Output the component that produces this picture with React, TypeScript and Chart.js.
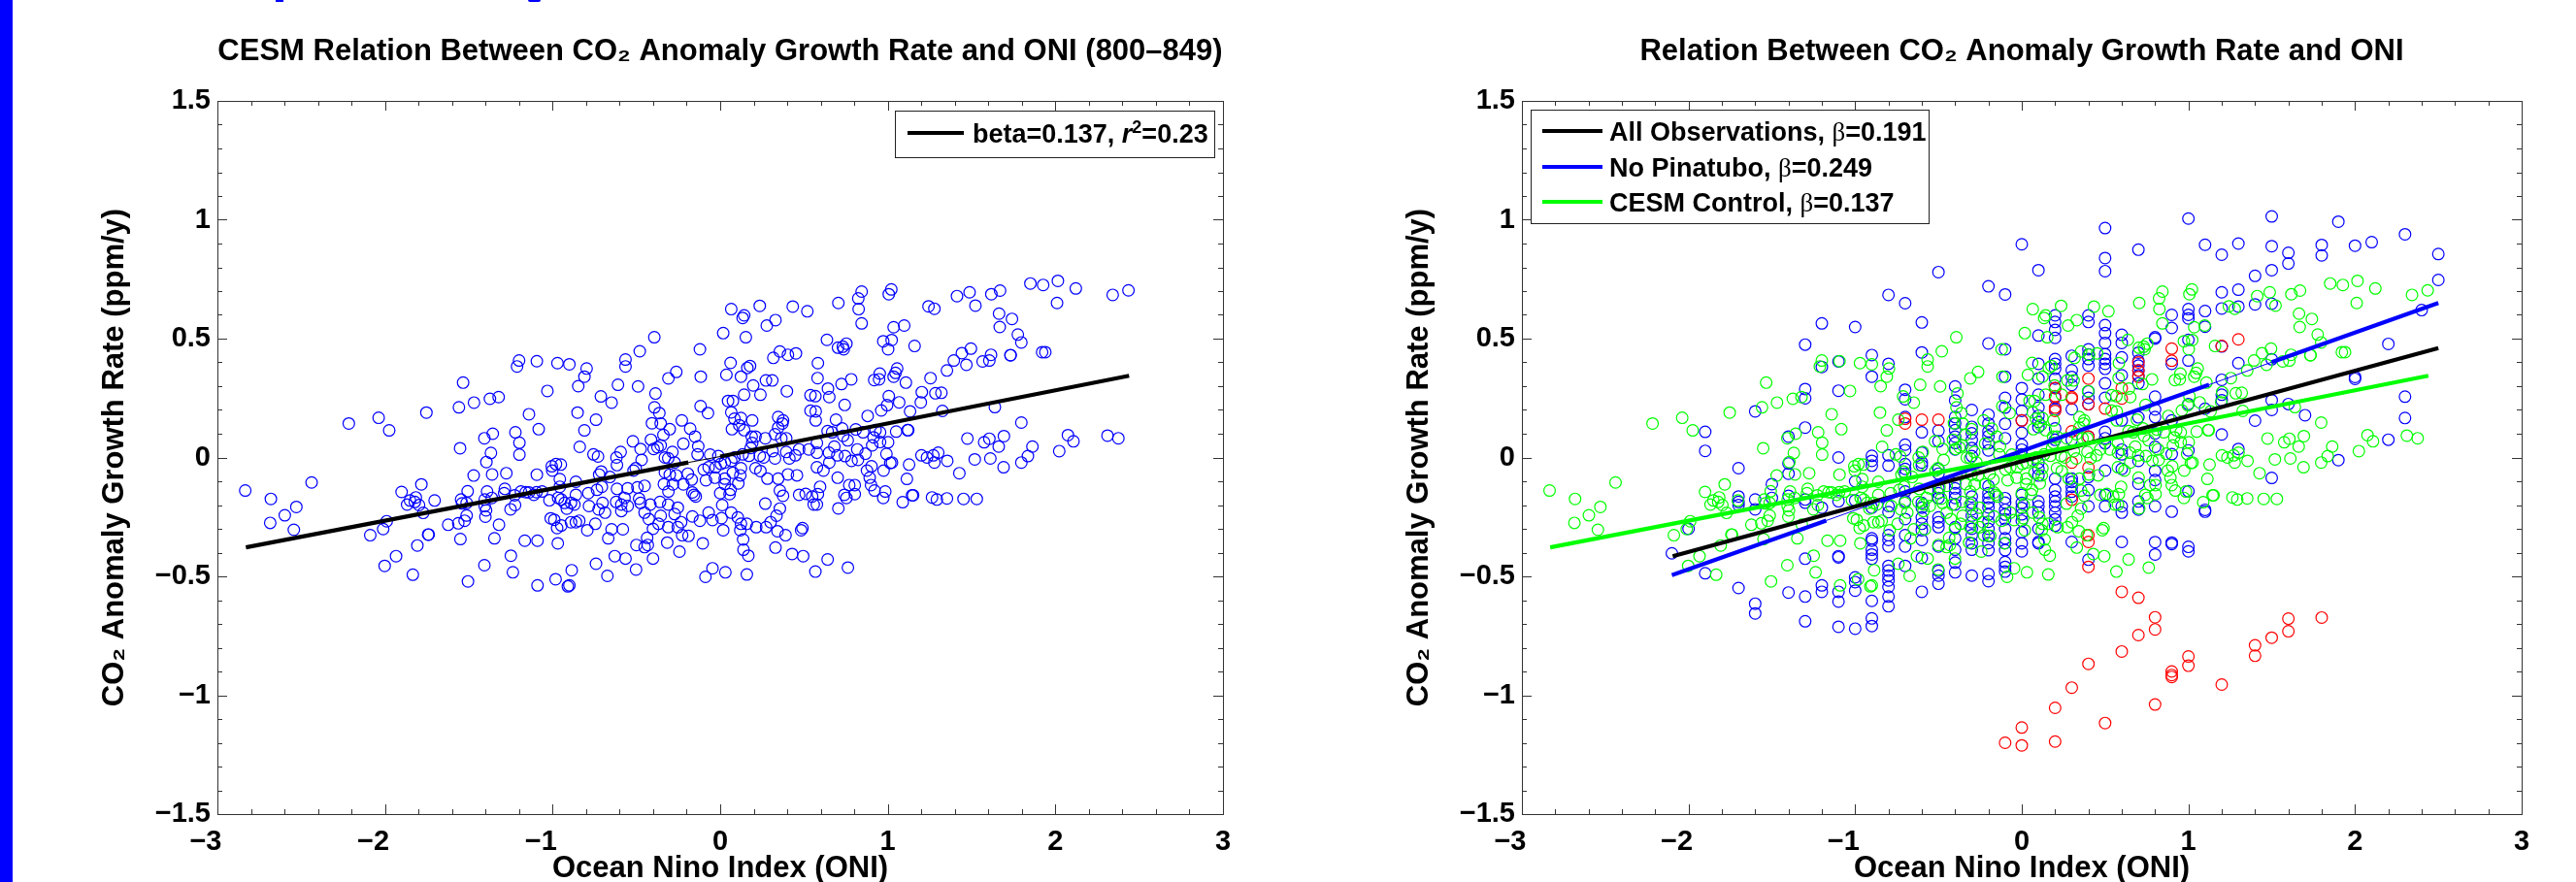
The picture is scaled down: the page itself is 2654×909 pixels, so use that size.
import React, { useEffect, useRef } from "react";
import { Chart, registerables } from "chart.js";

Chart.register(...registerables);

const FONT = "'Liberation Sans', Arial, sans-serif";
const leftTitle = "CESM Relation Between CO\u2082 Anomaly Growth Rate and ONI (800\u2013849)";
const rightTitle = "Relation Between CO\u2082 Anomaly Growth Rate and ONI";
const xAxisTitle = "Ocean Nino Index (ONI)";
const yAxisTitle = "CO\u2082 Anomaly Growth Rate (ppm/y)";

// CESM control run: [ONI, CO2 anomaly growth rate]
const cesmPoints: number[][] = [
  [-2.834,-0.139],[-2.681,-0.174],[-2.438,-0.105],[-2.529,-0.208],[-2.598,-0.243],[-2.685,-0.275],[-2.544,-0.304],[-2.216,0.143],[-2.038,0.167],[-1.975,0.114],
  [-1.753,0.189],[-1.534,0.315],[-1.559,0.211],[-1.469,0.231],[-1.374,0.247],[-1.322,0.254],[-1.2,0.408],[-1.212,0.383],[-1.094,0.405],[-0.971,0.397],
  [-0.9,0.392],[-1.031,0.28],[-1.141,0.182],[-1.083,0.119],[-1.222,0.106],[-1.357,0.1],[-1.407,0.081],[-1.198,0.062],[-1.552,0.039],[-1.198,0.012],
  [-1.368,0.019],[-1.395,-0.019],[-1.471,-0.076],[-1.361,-0.071],[-1.276,-0.066],[-1.094,-0.072],[-0.98,-0.028],[-1.005,-0.037],[-0.951,-0.03],[-1.002,-0.055],
  [-0.957,-0.091],[-1.783,-0.113],[-1.901,-0.145],[-1.816,-0.168],[-1.851,-0.181],[-1.822,-0.187],[-1.868,-0.198],[-1.797,-0.2],[-1.704,-0.181],[-1.772,-0.233],
  [-1.99,-0.268],[-2.011,-0.301],[-2.088,-0.327],[-1.743,-0.324],[-1.739,-0.324],[-1.807,-0.37],[-1.934,-0.415],[-2.002,-0.456],[-1.834,-0.493],[-1.505,-0.521],
  [-1.407,-0.453],[-1.249,-0.413],[-1.237,-0.483],[-1.09,-0.538],[-0.982,-0.512],[-0.9,-0.538],[-0.909,-0.542],[-0.886,-0.474],[-1.347,-0.34],[-1.55,-0.343],
  [-1.166,-0.35],[-1.09,-0.35],[-0.969,-0.361],[-1.32,-0.283],[-1.623,-0.283],[-1.563,-0.277],[-1.525,-0.266],[-1.513,-0.244],[-1.401,-0.249],[-1.397,-0.222],
  [-1.405,-0.204],[-1.405,-0.177],[-1.391,-0.143],[-1.363,-0.17],[-1.507,-0.142],[-1.546,-0.177],[-1.54,-0.193],[-1.513,-0.191],[-1.285,-0.132],[-1.289,-0.15],
  [-1.227,-0.159],[-1.224,-0.2],[-1.251,-0.218],[-1.189,-0.143],[-1.16,-0.146],[-1.141,-0.147],[-1.112,-0.157],[-1.096,-0.146],[-1.063,-0.143],[-1.019,-0.18],
  [-0.967,-0.17],[-0.948,-0.177],[-0.928,-0.191],[-0.915,-0.215],[-0.89,-0.191],[-0.957,-0.123],[-1.011,-0.256],[-0.99,-0.262],[-0.948,-0.286],[-0.973,-0.297],
  [-0.89,-0.272],
  [-0.393,0.506],[-0.48,0.447],[-0.565,0.412],[-0.565,0.383],[-0.797,0.374],[-0.81,0.34],[-0.847,0.3],[-0.61,0.306],[-0.49,0.299],[-0.712,0.257],
  [-0.648,0.231],[-0.386,0.269],[-0.309,0.333],[-0.262,0.36],[-0.121,0.455],[-0.116,0.34],[-0.117,0.216],[-0.073,0.187],[-0.392,0.211],[-0.363,0.187],
  [-0.851,0.189],[-0.741,0.159],[-0.81,0.114],[-0.407,0.144],[-0.355,0.143],[-0.229,0.156],[-0.301,0.119],[-0.179,0.121],[-0.15,0.088],[-0.339,0.095],
  [-0.413,0.075],[-0.521,0.068],[-0.22,0.058],[-0.355,0.051],[-0.374,0.043],[-0.397,0.036],[-0.475,0.036],[-0.838,0.045],[-0.131,0.047],[-0.135,0.013],
  [-0.594,0.023],[-0.619,0],[-0.616,-0.032],[-0.756,0.013],[-0.729,0.004],[-0.469,-0.01],[-0.285,0.023],[-0.33,0],[-0.31,-0.003],[-0.06,0.012],
  [-0.011,0.006],[-0.272,-0.021],[-0.504,-0.045],[-0.517,-0.055],[-0.658,-0.082],[-0.71,-0.059],[-0.722,-0.072],[-0.33,-0.062],[-0.301,-0.072],[-0.262,-0.075],
  [-0.193,-0.068],[-0.17,-0.093],[-0.336,-0.112],[-0.282,-0.113],[-0.22,-0.113],[-0.098,-0.051],[-0.069,-0.041],[-0.027,-0.041],[0.004,-0.027],[0.027,-0.021],
  [0.066,-0.014],[0.124,-0.045],[0.076,-0.064],[0.12,-0.075],[0.108,-0.109],[-0.085,-0.096],[-0.031,-0.085],[0.027,-0.089],[0.027,-0.112],[0.062,-0.136],
  [0,-0.15],[0.056,-0.154],[-0.156,-0.157],[-0.146,-0.164],[-0.166,-0.147],[-0.309,-0.143],[-0.451,-0.119],[-0.494,-0.126],[-0.552,-0.13],[-0.616,-0.132],
  [-0.706,-0.123],[-0.735,-0.136],[-0.787,-0.15],[-0.861,-0.102],[-0.861,-0.157],[-0.87,-0.198],[-0.702,-0.191],[-0.783,-0.204],[-0.726,-0.218],[-0.687,-0.232],
  [-0.745,-0.279],[-0.841,-0.266],[-0.861,-0.272],[-0.793,-0.306],[-0.648,-0.302],[-0.581,-0.302],[-0.668,-0.34],[-0.741,-0.447],[-0.673,-0.498],[-0.629,-0.415],
  [-0.565,-0.425],[-0.502,-0.471],[-0.401,-0.425],[-0.243,-0.396],[-0.5,-0.368],[-0.451,-0.377],[-0.432,-0.368],[-0.436,-0.338],[-0.316,-0.358],[-0.227,-0.327],
  [-0.189,-0.33],[-0.104,-0.361],[-0.621,-0.187],[-0.59,-0.198],[-0.552,-0.204],[-0.59,-0.225],[-0.571,-0.17],[-0.484,-0.173],[-0.475,-0.191],[-0.417,-0.198],
  [-0.359,-0.187],[-0.31,-0.198],[-0.253,-0.211],[-0.272,-0.238],[-0.355,-0.245],[-0.451,-0.232],[-0.426,-0.259],[-0.368,-0.279],[-0.401,-0.3],[-0.31,-0.293],
  [-0.253,-0.293],[-0.233,-0.272],[-0.166,-0.248],[-0.121,-0.266],[-0.069,-0.232],[-0.046,-0.263],[0.008,-0.255],[0.018,-0.306],[0.012,-0.2],[0.066,-0.232],
  [0.105,-0.252],[0.124,-0.279],[0.159,-0.279],[0.215,-0.293],[0.274,-0.293],[0.301,-0.272],[0.336,-0.245],[0.356,-0.215],[0.269,-0.194],[0.375,-0.161],
  [0.356,-0.139],[0.346,-0.089],[0.404,-0.071],[0.458,-0.075],[0.282,-0.089],[0.24,-0.057],[0.211,-0.045],[0.259,0],[0.236,0.007],[0.327,-0.004],
  [0.413,-0.004],[0.471,0.034],[0.529,0.034],[0.448,0.009],[0.394,0.023],[0.313,0.027],[0.269,0.081],[0.327,0.098],[0.394,0.081],[0.365,0.081],
  [0.346,0.17],[0.375,0.156],[0.371,0.143],[0.346,0.126],[0.191,0.156],[0.143,0.115],[0.124,0.166],[0.114,0.136],[0.07,0.119],[0.085,0.163],
  [0.066,0.19],[0.047,0.238],[0.076,0.238],[0.143,0.264],[0.24,0.264],[0.197,0.303],[0.273,0.324],[0.311,0.324],[0.398,0.279],[0.037,0.348],
  [0.062,0.398],[0.124,0.34],[0.162,0.377],[0.178,0.385],[0.317,0.419],[0.356,0.446],[0.404,0.432],[0.452,0.438],[0.018,0.523],[0.153,0.506],
  [0.066,0.624],[0.134,0.587],[0.143,0.598],[0.236,0.638],[0.278,0.555],[0.33,0.578],[0.433,0.635],[0.52,0.615],[0.188,0.088],[0.211,0.088],
  [0.191,0.061],[0.182,0.04],[0.085,0],[0.134,0.013],[0.172,0.007],[0.539,0.262],[0.539,0.197],[0.471,-0.157],[0.51,-0.153],[0.549,-0.164],
  [0.558,-0.198],[0.491,-0.297],[0.483,-0.306],[0.429,-0.406],[0.495,-0.415],[0.33,-0.379],[0.39,-0.327],[0.342,-0.31],[0.159,-0.492],[0.031,-0.483],
  [-0.046,-0.466],[-0.088,-0.502],[0.168,-0.413],[0.139,-0.388],[0.137,-0.345],[0.12,-0.306],
  [0.705,0.65],[0.844,0.698],[0.824,0.669],[0.826,0.624],[0.844,0.564],[1.021,0.707],[1.006,0.687],[1.243,0.636],[1.278,0.626],[1.413,0.679],
  [1.488,0.695],[1.523,0.639],[1.618,0.687],[1.67,0.702],[1.664,0.605],[1.741,0.583],[1.668,0.549],[1.851,0.732],[1.927,0.726],[2.015,0.743],
  [2.122,0.711],[2.01,0.65],[2.342,0.684],[2.436,0.703],[1.035,0.548],[1.098,0.555],[0.637,0.495],[0.703,0.462],[0.732,0.466],[0.753,0.479],
  [0.737,0.455],[0.973,0.489],[1.023,0.494],[1.002,0.455],[1.16,0.469],[1.776,0.517],[1.797,0.484],[0.583,0.397],[0.581,0.334],[1.496,0.458],
  [1.442,0.439],[1.394,0.408],[1.469,0.39],[1.353,0.366],[1.255,0.334],[1.616,0.432],[1.606,0.408],[1.566,0.404],[1.732,0.43],[1.733,0.431],
  [1.921,0.443],[1.94,0.443],[0.952,0.353],[0.948,0.329],[0.919,0.326],[1.056,0.374],[1.046,0.356],[1.035,0.34],[1.108,0.315],[0.782,0.329],
  [0.724,0.309],[0.643,0.29],[0.651,0.254],[0.568,0.258],[1.203,0.275],[1.284,0.27],[1.32,0.272],[1.197,0.232],[1.006,0.258],[0.996,0.22],
  [0.961,0.198],[1.068,0.232],[1.133,0.194],[0.743,0.221],[0.88,0.175],[1.326,0.196],[1.639,0.212],[0.691,0.159],[0.57,0.194],[0.57,0.156],
  [1.797,0.147],[0.728,0.122],[0.641,0.111],[0.668,0.106],[0.809,0.118],[0.853,0.106],[0.927,0.115],[0.954,0.106],[0.915,0.085],[1.05,0.109],
  [1.118,0.115],[1.122,0.115],[0.761,0.072],[0.734,0.091],[0.681,0.046],[0.649,0.02],[0.577,0.061],[0.577,0.02],[0.818,0.034],[0.867,0.016],
  [0.907,0.051],[0.954,0.065],[1.002,0.064],[0.992,0.015],[0.699,0.009],[0.745,0.006],[0.784,-0.014],[0.822,-0.01],[0.651,-0.021],[0.577,-0.041],
  [0.616,-0.055],[1.025,-0.021],[1.015,-0.023],[1.127,-0.03],[0.903,-0.037],[0.876,-0.055],[0.975,-0.055],[1.475,0.08],[1.606,0.079],[1.575,0.064],
  [1.693,0.09],[1.662,0.046],[2.075,0.094],[2.108,0.068],[2.023,0.027],[1.863,0.046],[1.836,0.006],[1.797,-0.021],[1.691,-0.041],[1.612,-0.004],
  [1.519,-0.008],[1.427,-0.066],[1.355,-0.014],[1.301,0.02],[1.272,0.009],[1.234,0],[1.201,0.009],[1.278,-0.021],[2.311,0.092],[2.376,0.081],
  [0.701,-0.085],[1.114,-0.09],[0.892,-0.085],[0.9,-0.116],[0.921,-0.139],[0.985,-0.143],[0.973,-0.17],[0.77,-0.116],[0.803,-0.116],[0.596,-0.123],
  [0.741,-0.157],[0.753,-0.17],[0.803,-0.154],[0.583,-0.154],[0.577,-0.198],[0.705,-0.214],[1.089,-0.188],[1.145,-0.159],[1.151,-0.159],[1.264,-0.168],
  [1.293,-0.177],[1.353,-0.172],[1.452,-0.174],[1.531,-0.174],[0.641,-0.429],[0.762,-0.463],[0.568,-0.48],
];

// Observations without Pinatubo: [ONI, growth rates at that ONI]
const observedColumns: [number, number[]][] = [
  [-2.1,[-0.403]],
  [-2.0,[-0.3]],
  [-1.9,[0.108,0.028,-0.487]],
  [-1.7,[-0.045,-0.164,-0.187,-0.2,-0.549]],
  [-1.6,[0.194,-0.177,-0.218,-0.615,-0.656]],
  [-1.5,[-0.112,-0.17]],
  [-1.4,[0.088,-0.025,-0.068,-0.161,-0.568]],
  [-1.3,[0.475,0.288,0.249,0.126,-0.177,-0.19,-0.426,-0.585,-0.689]],
  [-1.2,[0.564,0.381,-0.211,-0.538,-0.565]],
  [-1.1,[0.404,0.281,0,-0.184,-0.415,-0.42,-0.565,-0.606,-0.712]],
  [-1.0,[0.549,-0.1,-0.181,-0.504,-0.524,-0.56,-0.72]],
  [-0.9,[0.431,0.34,0.007,-0.014,-0.034,-0.211,-0.34,-0.35,-0.388,-0.408,-0.426,-0.603,-0.677,-0.709]],
  [-0.8,[0.684,0.394,0.009,-0.034,-0.204,-0.23,-0.327,-0.347,-0.374,-0.456,-0.476,-0.497,-0.517,-0.545,-0.585,-0.626]],
  [-0.7,[0.649,0.285,0.245,0.17,0.054,0.031,-0.028,-0.048,-0.068,-0.143,-0.184,-0.259,-0.327,-0.374,-0.456]],
  [-0.6,[0.568,0.442,0.106,0.02,-0.021,-0.034,-0.191,-0.211,-0.252,-0.279,-0.306,-0.347,-0.422,-0.565]],
  [-0.5,[0.78,0.113,0.068,-0.048,-0.068,-0.13,-0.15,-0.17,-0.252,-0.272,-0.293,-0.374,-0.477,-0.497,-0.531]],
  [-0.4,[0.299,0.24,0.17,0.143,0.115,0.088,0.061,0.034,-0.109,-0.13,-0.15,-0.17,-0.198,-0.293,-0.34,-0.388,-0.442,-0.483]],
  [-0.3,[0.2,0.129,0.102,0.074,0.04,0.006,-0.164,-0.191,-0.218,-0.245,-0.272,-0.3,-0.327,-0.361,-0.388,-0.497]],
  [-0.2,[0.72,0.48,0.18,0.143,0.11,0.09,0.06,0.03,-0.12,-0.15,-0.17,-0.19,-0.21,-0.24,-0.27,-0.3,-0.33,-0.36,-0.39,-0.49,-0.52]],
  [-0.1,[0.686,0.455,0.34,0.251,0.21,0.142,0.081,-0.171,-0.19,-0.22,-0.24,-0.26,-0.3,-0.34,-0.36,-0.39,-0.44,-0.46,-0.48]],
  [0,[0.897,0.292,0.244,0.196,0.156,0.104,0.054,0.033,0.013,-0.157,-0.191,-0.212,-0.239,-0.266,-0.314,-0.361,-0.395]],
  [0.1,[0.788,0.513,0.394,0.332,0.264,0.21,0.176,0.149,0.128,-0.021,-0.048,-0.076,-0.185,-0.205,-0.232,-0.3,-0.355,-0.361]],
  [0.2,[0.598,0.57,0.537,0.503,0.414,0.394,0.373,0.332,0.292,0.251,0.203,0.122,0.074,-0.089,-0.137,-0.164,-0.185,-0.205,-0.232,-0.26,-0.287]],
  [0.3,[0.428,0.367,0.339,0.305,0.203,0.074,-0.089,-0.103,-0.123,-0.144,-0.164,-0.355]],
  [0.4,[0.598,0.57,0.455,0.434,0.414,0.387,0.278,0.251,0.224,0.088,-0.082,-0.137,-0.205,-0.43]],
  [0.5,[0.965,0.839,0.784,0.557,0.523,0.482,0.435,0.414,0.394,0.373,0.312,0.251,0.108,0.081,0.06,-0.055,-0.157,-0.205]],
  [0.6,[0.516,0.482,0.421,0.346,0.156,0.033,0.013,-0.048,-0.205,-0.232,-0.355]],
  [0.7,[0.874,0.441,0.407,0.387,0.366,0.346,0.312,0.169,-0.014,-0.11,-0.185,-0.219]],
  [0.8,[0.506,0.5,0.256,0.202,0.17,0.101,0.045,-0.056,-0.095,-0.205,-0.356,-0.408]],
  [0.9,[0.6,0.545,0.394,0.156,0.014,-0.228,-0.358,-0.364]],
  [1.0,[1.005,0.624,0.6,0.585,0.495,0.408,0.225,0.03,-0.142,-0.376,-0.395]],
  [1.1,[0.895,0.616,0.55,0.205,-0.22,-0.228]],
  [1.2,[0.853,0.695,0.627,0.467,0.327,0.264,0.241,0.097]],
  [1.3,[0.9,0.706,0.635,0.397,0.036]],
  [1.4,[0.764,0.644,0.155]],
  [1.5,[1.014,0.889,0.788,0.647,0.413,0.241,0.2,-0.086]],
  [1.6,[0.861,0.816,0.225]],
  [1.7,[0.178]],
  [1.8,[0.894,0.85]],
  [1.9,[0.992,-0.011]],
  [2.0,[0.891,0.339,0.331]],
  [2.1,[0.906]],
  [2.2,[0.478,0.075]],
  [2.3,[0.939,0.256,0.166]],
  [2.4,[0.62]],
  [2.5,[0.856,0.747]],
];

// Pinatubo observations: [ONI, growth rates at that ONI]
const pinatuboColumns: [number, number[]][] = [
  [-0.7,[0.163,0.143]],
  [-0.6,[0.159]],
  [-0.5,[0.159]],
  [-0.1,[-1.2]],
  [0,[0.156,-1.136,-1.211]],
  [0.2,[0.292,0.258,0.21,0.196,-1.053,-1.195]],
  [0.3,[0.254,0.248,0.11,-0.021,-0.178,-0.968]],
  [0.4,[0.332,0.224,0.088,-0.042,-0.327,-0.355,-0.46,-0.868]],
  [0.5,[0.206,-1.117]],
  [0.6,[0.292,0.248,-0.565,-0.816]],
  [0.7,[0.4,0.366,0.339,-0.59,-0.747]],
  [0.8,[-0.672,-0.723,-1.039]],
  [0.9,[0.458,0.407,-0.9,-0.915,-0.923]],
  [1.0,[-0.837,-0.876]],
  [1.2,[0.469,-0.955]],
  [1.3,[0.497]],
  [1.4,[-0.79,-0.834]],
  [1.5,[-0.758]],
  [1.6,[-0.678,-0.731]],
  [1.8,[-0.673]],
];

// Regression lines; listed thin segments are drawn hairline as in the reference.
const cesmLine: number[][] = [[-2.83,-0.378],[-0.19,-0.021],[0,0.004],[2.44,0.344]];
const noPinatuboLine: number[][] = [[-2.1,-0.495],[-1.173,-0.265],[-0.85,-0.184],[1.124,0.306],[1.5,0.401],[2.5,0.65]];
const allObsLine: number[][] = [[-2.095,-0.415],[2.5,0.46]];

const toXY = (pairs: number[][]) => pairs.map(([x, y]) => ({ x, y }));
const columnsToXY = (cols: [number, number[]][]) =>
  cols.flatMap(([x, ys]) => ys.map((y) => ({ x, y })));

type Run = { t: string; font?: string; dy?: number };
type LegendRow = { color: string; runs: Run[]; y: number };
type LegendBox = { x0: number; x1: number; y0: number; y1: number; lx0: number; lx1: number; tx: number; rows: LegendRow[] };

const BOLD = `bold 27px ${FONT}`;
const leftLegend: LegendBox = {
  x0: 922, x1: 1251, y0: 114, y1: 162, lx0: 935, lx1: 993, tx: 1002,
  rows: [{
    color: "#000000", y: 137,
    runs: [
      { t: "beta=0.137, " },
      { t: "r", font: `italic bold 27px ${FONT}` },
      { t: "2", font: `bold 18px ${FONT}`, dy: -10 },
      { t: "=0.23" },
    ],
  }],
};
const betaFont = `27px 'Liberation Serif', serif`;
const rightLegendOffset = 1340;
const rightLegend: LegendBox = {
  x0: 1577 - rightLegendOffset, x1: 1987 - rightLegendOffset, y0: 113, y1: 230,
  lx0: 1589 - rightLegendOffset, lx1: 1651 - rightLegendOffset, tx: 1658 - rightLegendOffset,
  rows: [
    { color: "#000000", y: 135, runs: [{ t: "All Observations, " }, { t: "\u03b2", font: betaFont }, { t: "=0.191" }] },
    { color: "#0000ff", y: 172, runs: [{ t: "No Pinatubo, " }, { t: "\u03b2", font: betaFont }, { t: "=0.249" }] },
    { color: "#00ff00", y: 208, runs: [{ t: "CESM Control, " }, { t: "\u03b2", font: betaFont }, { t: "=0.137" }] },
  ],
};

const framePlugin = (legend: LegendBox) => ({
  id: "frameAndLegend",
  afterDraw(chart: any) {
    const { ctx, chartArea: a, scales } = chart;
    const xs = scales.x;
    const ys = scales.y;
    ctx.save();
    ctx.strokeStyle = "#333333";
    ctx.lineWidth = 1;
    ctx.strokeRect(a.left + 0.5, a.top + 0.5, a.right - a.left, a.bottom - a.top);
    ctx.beginPath();
    for (let i = 0; i <= 30; i++) {
      const p = Math.round(xs.getPixelForValue(-3 + i * 0.2)) + 0.5;
      const len = i % 5 === 0 ? 10 : 5;
      ctx.moveTo(p, a.top); ctx.lineTo(p, a.top + len);
      ctx.moveTo(p, a.bottom); ctx.lineTo(p, a.bottom - len);
    }
    for (let i = 0; i <= 30; i++) {
      const p = Math.round(ys.getPixelForValue(-1.5 + i * 0.1)) + 0.5;
      const len = i % 5 === 0 ? 10 : 5;
      ctx.moveTo(a.left, p); ctx.lineTo(a.left + len, p);
      ctx.moveTo(a.right, p); ctx.lineTo(a.right - len, p);
    }
    ctx.stroke();

    ctx.fillStyle = "#ffffff";
    ctx.fillRect(legend.x0, legend.y0, legend.x1 - legend.x0, legend.y1 - legend.y0);
    ctx.strokeStyle = "#222222";
    ctx.strokeRect(legend.x0 + 0.5, legend.y0 + 0.5, legend.x1 - legend.x0, legend.y1 - legend.y0);
    for (const row of legend.rows) {
      ctx.strokeStyle = row.color;
      ctx.lineWidth = 4;
      ctx.beginPath();
      ctx.moveTo(legend.lx0, row.y);
      ctx.lineTo(legend.lx1, row.y);
      ctx.stroke();
      let x = legend.tx;
      ctx.textBaseline = "alphabetic";
      ctx.textAlign = "left";
      ctx.fillStyle = "#000000";
      for (const run of row.runs) {
        ctx.font = run.font || BOLD;
        ctx.fillText(run.t, x, row.y + 10 + (run.dy || 0));
        x += ctx.measureText(run.t).width;
      }
    }
    ctx.restore();
  },
});

const circles = (label: string, color: string, data: { x: number; y: number }[]) => ({
  label, data, showLine: false,
  pointStyle: "circle", pointRadius: 5.9, pointBorderWidth: 1.2,
  pointBorderColor: color, pointBackgroundColor: "transparent",
  borderColor: color, backgroundColor: "transparent",
});

// One dataset per segment so that each can carry its own width.
const lineSeries = (label: string, color: string, pts: number[][], thinSegments: number[]) =>
  pts.slice(0, -1).map((p, i) => ({
    label, data: toXY([p, pts[i + 1]]), showLine: true, pointRadius: 0,
    borderColor: color, borderWidth: thinSegments.includes(i) ? 1 : 4.2,
    borderCapStyle: "butt", tension: 0,
  }));

const makeConfig = (title: string, datasets: any[], plotLeft: number, padRight: number, legend: LegendBox) => ({
  type: "scatter" as const,
  data: { datasets },
  options: {
    animation: false as const,
    responsive: false,
    layout: { padding: { left: plotLeft - 124, right: padRight, top: 0, bottom: 0 } },
    plugins: {
      legend: { display: false },
      tooltip: { enabled: false },
      title: {
        display: true, text: title, color: "#000000", fullSize: false,
        font: { family: FONT, size: 31, weight: "bold" as const, lineHeight: 1 },
        padding: { top: 38, bottom: 35 },
      },
    },
    scales: {
      x: {
        type: "linear" as const, min: -3, max: 3,
        grid: { display: false, drawTicks: false }, border: { display: false },
        afterFit: (s: any) => { s.height = 70; },
        ticks: {
          stepSize: 1, autoSkip: false, maxRotation: 0, padding: 14, color: "#000000",
          font: { family: FONT, size: 29, weight: "bold" as const, lineHeight: 1 },
          callback: (v: any) => (v < 0 ? `\u2212${Math.abs(v)}   ` : `${v}`),
        },
        title: {
          display: true, text: xAxisTitle, color: "#000000",
          font: { family: FONT, size: 31, weight: "bold" as const, lineHeight: 1 },
          padding: { top: 0, bottom: -2 },
        },
      },
      y: {
        type: "linear" as const, min: -1.5, max: 1.5,
        grid: { display: false, drawTicks: false }, border: { display: false },
        afterFit: (s: any) => { s.width = 124; },
        ticks: {
          stepSize: 0.5, autoSkip: false, padding: 7, color: "#000000",
          font: { family: FONT, size: 29, weight: "bold" as const, lineHeight: 1 },
          callback: (v: any) => (v < 0 ? `\u2212${Math.abs(v)}` : `${v}`),
        },
        title: {
          display: true, text: yAxisTitle, color: "#000000",
          font: { family: FONT, size: 31, weight: "bold" as const, lineHeight: 1 },
          padding: { top: 3, bottom: 0 },
        },
      },
    },
  },
  plugins: [framePlugin(legend)],
});

export default function App() {
  const leftRef = useRef<HTMLCanvasElement>(null);
  const rightRef = useRef<HTMLCanvasElement>(null);

  useEffect(() => {
    const cesm = toXY(cesmPoints);
    const left = new Chart(leftRef.current!, makeConfig(leftTitle, [
      ...lineSeries("beta=0.137, r2=0.23", "#000000", cesmLine, [1]),
      circles("CESM control", "#0000ff", cesm),
    ], 224, 80, leftLegend) as any);
    const right = new Chart(rightRef.current!, makeConfig(rightTitle, [
      ...lineSeries("CESM Control", "#00ff00", cesmLine, []),
      ...lineSeries("No Pinatubo", "#0000ff", noPinatuboLine, [1, 3]),
      ...lineSeries("All Observations", "#000000", allObsLine, []),
      circles("CESM points", "#00ff00", cesm),
      circles("Pinatubo points", "#ff0000", columnsToXY(pinatuboColumns)),
      circles("Observed points", "#0000ff", columnsToXY(observedColumns)),
    ], 228, 56, rightLegend) as any);
    return () => { left.destroy(); right.destroy(); };
  }, []);

  return (
    <div style={{ position: "absolute", left: 0, top: 0, width: 2654, height: 909, overflow: "hidden", background: "#fff" }}>
      <div style={{ position: "absolute", left: 0, top: 0, width: 13, height: 909, background: "#0000ff" }} />
      <div style={{ position: "absolute", left: 284, top: 0, width: 8, height: 2, background: "#0000ff" }} />
      <div style={{ position: "absolute", left: 544, top: 0, width: 13, height: 2, background: "#0000ff", borderRadius: "0 0 6px 6px" }} />
      <canvas ref={leftRef} width={1340} height={909} style={{ position: "absolute", left: 0, top: 0, width: 1340, height: 909 }} />
      <canvas ref={rightRef} width={1314} height={909} style={{ position: "absolute", left: 1340, top: 0, width: 1314, height: 909 }} />
    </div>
  );
}
